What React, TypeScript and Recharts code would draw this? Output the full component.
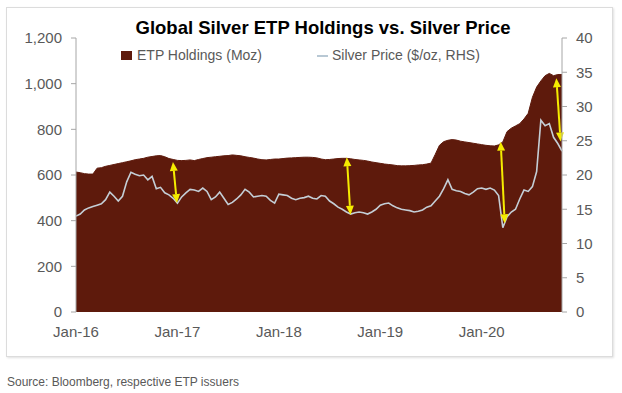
import React from "react";
import { ComposedChart, Area, Line, XAxis, YAxis, ReferenceLine } from "recharts";

// Half-month observation dates, Jan-2016 .. mid-Oct-2020
const dates: string[] = [];
for (let y = 2016; y <= 2020; y++) {
  for (let m = 1; m <= 12; m++) {
    for (const d of [1, 15]) {
      if (dates.length < 116) dates.push(`${y}-${String(m).padStart(2, "0")}-${d}`);
    }
  }
}

// ETP holdings (Moz, LHS)
const holdings = [
  613, 610, 606, 604, 604, 630, 632, 638, 642, 646, 650, 654,
  658, 662, 667, 670, 673, 678, 681, 684, 685, 680, 672, 668,
  664, 663, 664, 666, 663, 668, 672, 676, 678, 680, 682, 684,
  685, 688, 686, 684, 680, 677, 674, 670, 667, 666, 668, 670,
  670, 672, 674, 675, 676, 677, 678, 678, 677, 675, 670, 667,
  668, 670, 672, 673, 673, 671, 668, 666, 664, 661, 657, 654,
  651, 648, 646, 644, 641, 640, 640, 641, 642, 644, 645, 648,
  652, 690, 730, 746, 752, 755, 753, 748, 745, 742, 739, 736,
  733, 730, 728, 727, 732, 745, 790, 805, 815, 825, 845, 870,
  940, 985, 1012, 1035, 1045, 1035, 1040, 1040,
];

// Silver price ($/oz, RHS)
const price = [
  14.0, 14.3, 14.9, 15.2, 15.4, 15.6, 15.8, 16.4, 17.5, 16.9, 16.2, 16.9,
  19.0, 20.4, 20.1, 19.9, 20.0, 19.3, 19.8, 18.0, 18.2, 17.4, 17.1, 16.6,
  15.9, 16.8, 17.4, 17.9, 17.8, 17.6, 18.1, 17.6, 16.4, 16.8, 17.5, 16.6,
  15.7, 16.0, 16.5, 17.1, 17.9, 17.5, 16.8, 16.9, 17.0, 16.9, 16.3, 15.9,
  17.2, 17.1, 17.0, 16.6, 16.4, 16.6, 16.7, 16.9, 16.6, 16.5, 17.0, 16.9,
  16.2, 15.8, 15.3, 15.0, 14.6, 14.3, 14.5, 14.6, 14.5, 14.3, 14.6, 15.0,
  15.6, 15.8, 15.9, 15.5, 15.2, 15.0, 14.9, 14.8, 14.6, 14.7, 14.9, 15.3,
  15.5, 16.2, 16.9, 18.0, 19.3, 17.9, 17.7, 17.6, 17.3, 17.1, 17.5, 18.0,
  18.1, 17.9, 18.1, 17.8, 17.0, 12.3, 13.9, 14.6, 15.0, 16.5, 17.8, 17.6,
  18.3, 20.5, 28.0, 27.2, 27.5, 25.5, 24.6, 23.5,
];

const xTicks = [2016, 2017, 2018, 2019, 2020];
const leftTicks = [0, 200, 400, 600, 800, 1000, 1200];
const rightTicks = [0, 5, 10, 15, 20, 25, 30, 35, 40];

// Yellow double-headed arrows: from holdings (top) to price (bottom)
const arrowTopX = [2016.956, 2018.67, 2020.187, 2020.736];
const arrowTopHold = [657, 678, 746, 1024];
const arrowBotX = [2016.995, 2018.706, 2020.227, 2020.778];
const arrowBotPrice = [15.9, 14.2, 12.95, 24.9];

const toYear = (s: string) => {
  const [y, m, d] = s.split("-").map(Number);
  return y + (m - 1) / 12 + (d === 15 ? 1 / 24 : 0);
};

const data = dates.map((d, i) => ({ t: toYear(d), hold: holdings[i], price: price[i] }));
const xEnd = data[data.length - 1].t;

const FONT = "'Liberation Sans', Arial, sans-serif";
const GREY = "#595959";
const MAROON = "#5e1a0c";
const YELLOW = "#f5ec00";

const ArrowShape = (props: any) => {
  const { x1, y1, x2, y2 } = props;
  if ([x1, y1, x2, y2].some((v) => typeof v !== "number" || isNaN(v))) return null;
  const dx = x2 - x1;
  const dy = y2 - y1;
  const len = Math.hypot(dx, dy) || 1;
  const ux = dx / len;
  const uy = dy / len;
  const px = -uy;
  const py = ux;
  const h = 9;
  const w = 4;
  const head = (tx: number, ty: number, vx: number, vy: number) =>
    `${tx},${ty} ${tx - vx * h + px * w},${ty - vy * h + py * w} ${tx - vx * h - px * w},${ty - vy * h - py * w}`;
  return (
    <g>
      <line x1={x1 + ux * h} y1={y1 + uy * h} x2={x2 - ux * h} y2={y2 - uy * h} stroke={YELLOW} strokeWidth={2} />
      <polygon points={head(x2, y2, ux, uy)} fill={YELLOW} />
      <polygon points={head(x1, y1, -ux, -uy)} fill={YELLOW} />
    </g>
  );
};

export default function App() {
  return (
    <div style={{ position: "absolute", left: 0, top: 0, width: 622, height: 393, background: "#fff", fontFamily: FONT }}>
      <div
        style={{
          position: "absolute",
          left: 6,
          top: 7,
          width: 605,
          height: 348,
          border: "1px solid #dcdcdc",
          boxShadow: "1px 1px 2px rgba(0,0,0,0.12)",
        }}
      />
      <div style={{ position: "absolute", left: 0, top: 0 }}>
        <ComposedChart width={622} height={360} data={data} margin={{ top: 38, right: 10, bottom: 18, left: 16 }}>
          <XAxis
            dataKey="t"
            type="number"
            domain={[2016, xEnd]}
            ticks={xTicks}
            tickFormatter={(v: number) => `Jan-${String(v).slice(2)}`}
            axisLine={false}
            tickLine={false}
            tickSize={0}
            tickMargin={14}
            height={30}
            tick={{ fill: GREY, fontSize: 15, fontFamily: FONT }}
          />
          <YAxis
            yAxisId="left"
            orientation="left"
            domain={[0, 1200]}
            ticks={leftTicks}
            width={60}
            tickFormatter={(v: number) => v.toLocaleString("en-US")}
            axisLine={{ stroke: "#a6a6a6" }}
            tickLine={{ stroke: "#a6a6a6" }}
            tickSize={5}
            tickMargin={9}
            tick={{ fill: GREY, fontSize: 15, fontFamily: FONT }}
          />
          <YAxis
            yAxisId="right"
            orientation="right"
            domain={[0, 40]}
            ticks={rightTicks}
            width={50}
            axisLine={{ stroke: "#a6a6a6" }}
            tickLine={{ stroke: "#a6a6a6" }}
            tickSize={5}
            tickMargin={9}
            tick={{ fill: GREY, fontSize: 15, fontFamily: FONT }}
          />
          <Area
            yAxisId="left"
            dataKey="hold"
            type="linear"
            stroke={MAROON}
            strokeWidth={1}
            fill={MAROON}
            fillOpacity={1}
            isAnimationActive={false}
          />
          <Line
            yAxisId="right"
            dataKey="price"
            type="linear"
            stroke="#c4ced6"
            strokeWidth={1.6}
            dot={false}
            isAnimationActive={false}
          />
          {arrowTopX.map((x, i) => (
            <ReferenceLine
              key={i}
              yAxisId="left"
              ifOverflow="visible"
              segment={[
                { x, y: arrowTopHold[i] },
                { x: arrowBotX[i], y: arrowBotPrice[i] * 30 },
              ]}
              shape={ArrowShape}
            />
          ))}
        </ComposedChart>
      </div>
      <div
        style={{
          position: "absolute",
          left: 0,
          width: 646,
          top: 19.3,
          textAlign: "center",
          fontSize: 18.5,
          lineHeight: "18.5px",
          fontWeight: "bold",
          color: "#000",
          whiteSpace: "nowrap",
        }}
      >
        Global Silver ETP Holdings vs. Silver Price
      </div>
      <div style={{ position: "absolute", left: 121, top: 51, width: 11, height: 9, background: MAROON }} />
      <div style={{ position: "absolute", left: 137, top: 48.2, fontSize: 14, lineHeight: "14px", color: GREY, whiteSpace: "nowrap" }}>
        ETP Holdings (Moz)
      </div>
      <div style={{ position: "absolute", left: 317, top: 54.5, width: 11, height: 2, background: "#b8c8d4" }} />
      <div style={{ position: "absolute", left: 332, top: 48.2, fontSize: 14, lineHeight: "14px", color: GREY, whiteSpace: "nowrap" }}>
        Silver Price ($/oz, RHS)
      </div>
      <div style={{ position: "absolute", left: 7, top: 375.8, fontSize: 12, lineHeight: "12px", color: GREY, whiteSpace: "nowrap" }}>
        Source: Bloomberg, respective ETP issuers
      </div>
    </div>
  );
}
